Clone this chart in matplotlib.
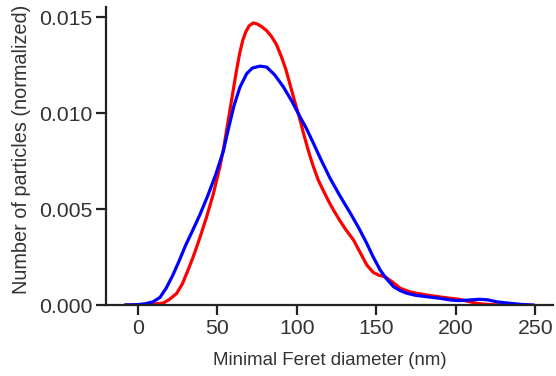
import matplotlib
matplotlib.use("Agg")
import matplotlib.pyplot as plt

plt.rcParams['font.family'] = ['Liberation Sans', 'DejaVu Sans']

# Red series
red_x = [-8, 0, 8, 16, 20, 24.4, 28, 31, 34.8, 39, 43.3, 47.5, 51.6, 54, 56, 58, 60, 62, 64, 66, 68, 70,
         72.6, 75, 78, 81, 84, 87, 90, 93, 96, 99, 101.5, 104, 107, 110, 113.5, 117, 120,
         123, 127, 131, 135.6, 140, 144, 148, 151.3, 155.5, 160, 165, 171, 176, 181.8, 190, 196.5,
         202, 207, 213, 218, 225, 230]
red_y = [0, 0.000005, 0.00003, 0.0001, 0.0003, 0.0006, 0.0011, 0.0017, 0.0025, 0.0035, 0.0046,
         0.0058, 0.0072, 0.0082, 0.0092, 0.0102, 0.0112, 0.0122, 0.0131, 0.0138, 0.01425, 0.01455,
         0.0147, 0.01465, 0.0145, 0.0143, 0.0140, 0.0136, 0.0130, 0.0123, 0.0114, 0.0105,
         0.0098, 0.0090, 0.0081, 0.0073, 0.0065, 0.0059, 0.0054,
         0.00495, 0.0044, 0.0039, 0.00339, 0.0027, 0.00208, 0.0017, 0.00156, 0.00147, 0.0012,
         0.00087, 0.00069, 0.0006, 0.00052, 0.00042, 0.00035,
         0.0003, 0.0002, 0.00009, 0.00004, 0.00001, 0]

# Blue series
blue_x = [-8, 0, 5, 9.7, 14, 18, 22, 26, 30, 34, 39, 44, 49, 53.7, 57, 60.5, 64.2, 68.4, 72, 76.8,
          81, 86, 91.5, 97, 102, 106, 110, 115, 120.9, 127, 133.5, 139, 144, 148, 152.4, 156,
          160.8, 165, 169.2, 175, 181.8, 190, 196.5, 202, 208, 215, 220, 226, 234, 241, 249]
blue_y = [0, 0.00002, 0.00007, 0.00017, 0.0004, 0.0009, 0.00155, 0.0023, 0.0031, 0.0038, 0.0047,
          0.0057, 0.0068, 0.0080, 0.0092, 0.0104, 0.01135, 0.01205, 0.01235, 0.01245,
          0.0124, 0.0120, 0.01137, 0.0106, 0.0098, 0.0092, 0.0085, 0.0076, 0.0066, 0.0057, 0.0048,
          0.0040, 0.0032, 0.0025, 0.00182, 0.0014,
          0.00095, 0.00075, 0.00061, 0.0005, 0.00043, 0.00035, 0.00026, 0.00023, 0.00026, 0.0003,
          0.00027, 0.00016, 0.00009, 0.00003, 0]

xticks = [0, 50, 100, 150, 200, 250]
yticks = [0.000, 0.005, 0.010, 0.015]

fig = plt.figure(figsize=(5.56, 3.76), dpi=100)
ax = fig.add_axes([0.1906, 0.1888, 0.804, 0.792])

ax.plot(red_x, red_y, color='#ff0000', lw=2.3, solid_capstyle='round', solid_joinstyle='round')
ax.plot(blue_x, blue_y, color='#0000ff', lw=2.3, solid_capstyle='round', solid_joinstyle='round')

ax.set_xlim(-20, 261)
ax.set_ylim(0, 0.01552)
ax.set_xticks(xticks)
ax.set_yticks(yticks)
ax.set_yticklabels([f"{v:.3f}" for v in yticks])

for s in ['top', 'right']:
    ax.spines[s].set_visible(False)
for s in ['left', 'bottom']:
    ax.spines[s].set_linewidth(1.6)
    ax.spines[s].set_color('#222222')

ax.tick_params(axis='both', direction='out', length=7, width=1.6, color='#222222',
               labelsize=15.3, labelcolor='#333333', pad=3)

ax.set_xlabel('Minimal Feret diameter (nm)', fontsize=13.4, color='#333333', labelpad=10)
ax.set_ylabel('Number of particles (normalized)', fontsize=14.3, color='#333333')
ax.yaxis.set_label_coords(-0.168, 0.523)

fig.savefig('out.png', dpi=100)
